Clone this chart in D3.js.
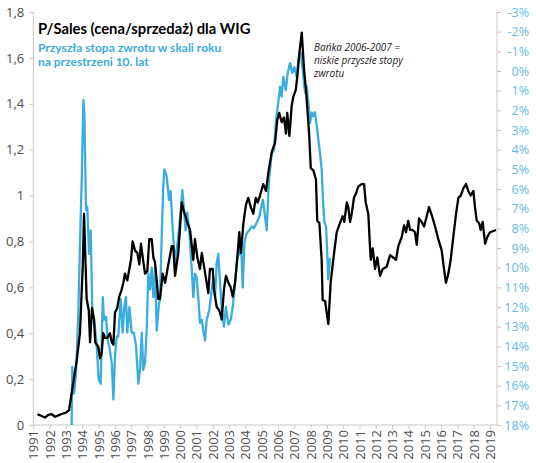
<!DOCTYPE html>
<html>
<head>
<meta charset="utf-8">
<script src="https://cdn.jsdelivr.net/npm/d3@7"></script>
<style>
  body { margin: 0; background: #fff; }
  text { font-family: "Open Sans", "Liberation Sans", sans-serif; }
</style>
</head>
<body>
<script>
  // P/Sales dla WIG (left axis) and future 10y annual return (right axis, inverted)
  var pSales = [
    [1991.25, 0.047], [1991.52, 0.039], [1991.72, 0.032], [1991.92, 0.044],
    [1992.13, 0.047], [1992.33, 0.036], [1992.53, 0.042], [1992.74, 0.048],
    [1993.00, 0.054], [1993.19, 0.065], [1993.29, 0.11], [1993.66, 0.28],
    [1993.86, 0.40], [1994.03, 0.69], [1994.11, 0.92], [1994.27, 0.55],
    [1994.40, 0.50], [1994.48, 0.36], [1994.60, 0.51], [1994.72, 0.46],
    [1994.80, 0.36], [1994.99, 0.34], [1995.09, 0.29], [1995.19, 0.31],
    [1995.29, 0.40], [1995.40, 0.38], [1995.54, 0.38], [1995.70, 0.40],
    [1995.81, 0.36], [1995.91, 0.35], [1996.01, 0.49], [1996.15, 0.51],
    [1996.27, 0.56], [1996.42, 0.59], [1996.52, 0.62], [1996.62, 0.66],
    [1996.76, 0.63], [1996.89, 0.68], [1996.99, 0.72], [1997.09, 0.80],
    [1997.24, 0.76], [1997.38, 0.75], [1997.50, 0.70], [1997.60, 0.79],
    [1997.71, 0.73], [1997.85, 0.66], [1997.99, 0.67], [1998.11, 0.81],
    [1998.26, 0.81], [1998.36, 0.73], [1998.46, 0.71], [1998.57, 0.63],
    [1998.66, 0.55], [1998.77, 0.55], [1998.93, 0.66], [1999.08, 0.62],
    [1999.18, 0.66], [1999.28, 0.70], [1999.49, 0.78], [1999.58, 0.78],
    [1999.69, 0.65], [1999.89, 0.75], [2000.10, 0.97], [2000.20, 0.94],
    [2000.41, 0.89], [2000.61, 0.85], [2000.81, 0.72], [2000.91, 0.81],
    [2001.06, 0.73], [2001.22, 0.68], [2001.33, 0.75], [2001.47, 0.69],
    [2001.63, 0.62], [2001.73, 0.575], [2001.83, 0.68], [2002.00, 0.68],
    [2002.08, 0.59], [2002.24, 0.515], [2002.40, 0.50], [2002.55, 0.46],
    [2002.69, 0.59], [2002.81, 0.65], [2002.96, 0.62], [2003.10, 0.60],
    [2003.23, 0.56], [2003.37, 0.62], [2003.51, 0.73], [2003.63, 0.84],
    [2003.73, 0.75], [2003.88, 0.88], [2004.04, 0.96], [2004.18, 0.99],
    [2004.33, 0.95], [2004.49, 0.92], [2004.64, 0.99], [2004.76, 0.97],
    [2004.90, 1.00], [2005.10, 1.05], [2005.27, 1.02], [2005.41, 1.10],
    [2005.62, 1.19], [2005.82, 1.23], [2005.96, 1.33], [2006.08, 1.36],
    [2006.23, 1.32], [2006.37, 1.34], [2006.49, 1.27], [2006.57, 1.36],
    [2006.70, 1.26], [2006.84, 1.39], [2006.94, 1.43], [2007.09, 1.46],
    [2007.19, 1.52], [2007.31, 1.62], [2007.46, 1.71], [2007.60, 1.55],
    [2007.72, 1.46], [2007.82, 1.36], [2007.92, 1.26], [2008.01, 1.12],
    [2008.17, 1.11], [2008.33, 1.07], [2008.41, 0.89], [2008.54, 0.88],
    [2008.68, 0.72], [2008.74, 0.545], [2008.89, 0.54], [2009.09, 0.44],
    [2009.23, 0.62], [2009.39, 0.72], [2009.60, 0.84], [2009.80, 0.88],
    [2009.97, 0.91], [2010.07, 0.885], [2010.22, 0.97], [2010.31, 0.95],
    [2010.42, 0.885], [2010.52, 0.92], [2010.66, 0.99], [2010.79, 1.01],
    [2010.93, 1.04], [2011.13, 1.05], [2011.28, 1.05], [2011.38, 0.97],
    [2011.54, 0.92], [2011.64, 0.78], [2011.69, 0.72], [2011.81, 0.77],
    [2011.95, 0.68], [2012.09, 0.73], [2012.26, 0.65], [2012.42, 0.68],
    [2012.67, 0.69], [2012.87, 0.74], [2013.07, 0.73], [2013.24, 0.72],
    [2013.38, 0.78], [2013.59, 0.82], [2013.73, 0.87], [2013.85, 0.84],
    [2013.99, 0.89], [2014.10, 0.85], [2014.26, 0.85], [2014.40, 0.84],
    [2014.51, 0.785], [2014.65, 0.90], [2014.81, 0.885], [2014.96, 0.865],
    [2015.12, 0.91], [2015.26, 0.95], [2015.43, 0.915], [2015.63, 0.865],
    [2015.83, 0.81], [2016.04, 0.76], [2016.18, 0.68], [2016.30, 0.62],
    [2016.45, 0.66], [2016.59, 0.72], [2016.75, 0.82], [2016.92, 0.92],
    [2017.06, 0.99], [2017.21, 1.00], [2017.36, 1.03], [2017.53, 1.05],
    [2017.67, 1.02], [2017.82, 1.00], [2017.98, 1.02], [2018.08, 0.95],
    [2018.19, 0.89], [2018.33, 0.88], [2018.43, 0.85], [2018.55, 0.885],
    [2018.70, 0.79], [2018.84, 0.82], [2019.00, 0.84], [2019.37, 0.85]
  ];

  var futureReturn = [
    [1993.35, 18.0], [1993.39, 15.05], [1993.50, 16.4], [1993.62, 15.35],
    [1993.76, 12.3], [1993.86, 8.9], [1993.97, 5.5], [1994.07, 1.47],
    [1994.13, 2.1], [1994.23, 7.07], [1994.31, 6.9], [1994.42, 9.3],
    [1994.52, 8.1], [1994.62, 12.3], [1994.74, 12.65], [1994.89, 14.0],
    [1995.01, 15.7], [1995.13, 15.9], [1995.26, 11.5], [1995.33, 12.65],
    [1995.46, 12.5], [1995.56, 13.7], [1995.66, 14.0], [1995.81, 14.85],
    [1995.91, 16.7], [1996.01, 14.5], [1996.11, 13.5], [1996.21, 13.5],
    [1996.36, 11.6], [1996.48, 13.3], [1996.58, 12.0], [1996.68, 11.5],
    [1996.76, 13.3], [1996.89, 12.0], [1997.03, 13.3], [1997.17, 13.3],
    [1997.30, 14.0], [1997.44, 15.9], [1997.54, 15.2], [1997.65, 13.3],
    [1997.74, 15.2], [1997.85, 14.85], [1997.95, 13.2], [1998.05, 10.3],
    [1998.16, 11.1], [1998.26, 10.0], [1998.36, 11.5], [1998.46, 10.0],
    [1998.57, 13.2], [1998.69, 12.0], [1998.77, 11.5], [1998.87, 8.5],
    [1998.97, 5.8], [1999.04, 5.0], [1999.18, 5.37], [1999.32, 6.55],
    [1999.42, 6.1], [1999.55, 8.1], [1999.69, 9.8], [1999.89, 8.4],
    [2000.04, 7.07], [2000.14, 6.05], [2000.24, 7.07], [2000.34, 8.1],
    [2000.44, 7.2], [2000.56, 8.1], [2000.71, 10.0], [2000.81, 11.5],
    [2000.91, 10.3], [2001.02, 10.5], [2001.12, 11.6], [2001.22, 12.8],
    [2001.33, 12.65], [2001.42, 13.2], [2001.53, 13.7], [2001.63, 12.65],
    [2001.79, 12.15], [2001.94, 11.1], [2002.04, 10.5], [2002.14, 11.5],
    [2002.24, 9.8], [2002.34, 9.3], [2002.45, 10.8], [2002.55, 12.0],
    [2002.69, 13.0], [2002.81, 12.0], [2002.96, 12.9], [2003.10, 12.65],
    [2003.23, 12.0], [2003.37, 10.8], [2003.51, 9.45], [2003.63, 9.3],
    [2003.73, 8.6], [2003.84, 11.0], [2003.94, 8.75], [2004.08, 8.25],
    [2004.24, 8.1], [2004.39, 7.9], [2004.53, 8.0], [2004.70, 7.7],
    [2004.86, 7.4], [2005.00, 6.8], [2005.08, 6.55], [2005.21, 7.4],
    [2005.31, 8.1], [2005.42, 6.0], [2005.47, 5.4], [2005.62, 4.2],
    [2005.76, 4.0], [2005.88, 2.5], [2006.02, 1.6], [2006.13, 0.8],
    [2006.23, 1.3], [2006.33, 0.3], [2006.48, 0.97], [2006.60, 0.1],
    [2006.74, -0.4], [2006.88, 0.1], [2007.00, -0.2], [2007.15, 0.3],
    [2007.25, -0.56], [2007.40, -0.9], [2007.52, -0.05], [2007.66, 1.1],
    [2007.76, 0.8], [2007.86, 1.6], [2007.97, 2.65], [2008.07, 2.1],
    [2008.17, 2.3], [2008.27, 2.1], [2008.41, 3.0], [2008.58, 4.2],
    [2008.68, 5.0], [2008.78, 6.9], [2008.85, 7.7], [2008.95, 7.9],
    [2009.09, 10.6], [2009.19, 9.5]
  ];

  var yearLabels = ["1991", "1992", "1993", "1994", "1995", "1996", "1997",
    "1998", "1999", "2000", "2001", "2002", "2003", "2004", "2005", "2006",
    "2007", "2008", "2009", "2010", "2011", "2012", "2013", "2014", "2015",
    "2016", "2017", "2018", "2019"];
  var leftTicks = [0, 0.2, 0.4, 0.6, 0.8, 1.0, 1.2, 1.4, 1.6, 1.8];
  var leftLabels = ["0", "0,2", "0,4", "0,6", "0,8", "1", "1,2", "1,4", "1,6", "1,8"];
  var rightTicks = [-3, -2, -1, 0, 1, 2, 3, 4, 5, 6, 7, 8, 9, 10, 11, 12, 13, 14, 15, 16, 17, 18];

  var width = 536;
  var height = 463;
  var margin = { top: 12, left: 33.3, right: 39, bottom: 38 };

  var blue = "#3aade0";
  var axisGray = "#c8c8c8";
  var labelGray = "#4d4d4d";

  var svg = d3.select("body")
    .append("svg")
    .attr("width", width)
    .attr("height", height);

  svg.append("rect")
    .attr("width", width)
    .attr("height", height)
    .attr("fill", "#fff");

  var xScale = d3.scaleLinear()
    .domain([1991, 2019.43])
    .range([margin.left, width - margin.right]);

  var yLeft = d3.scaleLinear()
    .domain([0, 1.8])
    .range([height - margin.bottom, margin.top]);

  var yRight = d3.scaleLinear()
    .domain([-3, 18])
    .range([margin.top, height - margin.bottom]);

  // left axis
  var leftAxis = svg.append("g")
    .attr("transform", `translate(${margin.left},0)`)
    .call(d3.axisLeft(yLeft)
      .tickValues(leftTicks)
      .tickFormat(function(d, i) { return leftLabels[i]; })
      .tickSize(4)
      .tickPadding(5));

  // right axis
  var rightAxis = svg.append("g")
    .attr("transform", `translate(${width - margin.right},0)`)
    .call(d3.axisRight(yRight).tickValues(rightTicks).tickFormat(function(d) { return d + "%"; }).tickSize(4));

  rightAxis.selectAll("text")
    .attr("text-anchor", "end")
    .attr("x", 32);

  // bottom axis
  var xAxis = svg.append("g")
    .attr("transform", `translate(0,${height - margin.bottom})`)
    .call(d3.axisBottom(xScale)
      .tickValues(yearLabels.map(Number))
      .tickFormat(function(d, i) { return yearLabels[i]; })
      .tickSize(4));

  xAxis.selectAll("text")
    .attr("transform", "rotate(-90)")
    .attr("text-anchor", "end")
    .attr("x", -5)
    .attr("y", 0)
    .attr("dy", "0.35em");

  [leftAxis, rightAxis, xAxis].forEach(function(g) {
    g.select(".domain").attr("stroke", axisGray).attr("stroke-width", 1);
    g.selectAll(".tick line").attr("stroke", axisGray);
    g.selectAll("text").style("font-size", "12.5px");
  });
  leftAxis.selectAll("text").attr("fill", labelGray).style("font-size", "13px");
  xAxis.selectAll("text").attr("fill", labelGray).style("font-size", "13px");
  rightAxis.selectAll("text").attr("fill", "#5fbbe6");
  // axis domains without end caps
  leftAxis.select(".domain").attr("d", `M0,${margin.top}V${height - margin.bottom}`);
  rightAxis.select(".domain").attr("d", `M0,${margin.top}V${height - margin.bottom}`);
  xAxis.select(".domain").attr("d", `M${margin.left},0H${width - margin.right}`);

  // lines
  var psLine = d3.line()
    .x(function(d) { return xScale(d[0]); })
    .y(function(d) { return yLeft(d[1]); });

  var retLine = d3.line()
    .x(function(d) { return xScale(d[0]); })
    .y(function(d) { return yRight(d[1]); });

  svg.append("path")
    .datum(futureReturn)
    .attr("fill", "none")
    .attr("stroke", blue)
    .attr("stroke-width", 2.3)
    .attr("stroke-linejoin", "round")
    .attr("d", retLine);

  svg.append("path")
    .datum(pSales)
    .attr("fill", "none")
    .attr("stroke", "#000")
    .attr("stroke-width", 2.3)
    .attr("stroke-linejoin", "round")
    .attr("d", psLine);

  // titles
  svg.append("text")
    .attr("x", 38)
    .attr("y", 34)
    .attr("font-weight", "bold")
    .style("font-size", "14.8px")
    .style("font-family", "Lato, 'Open Sans', sans-serif")
    .attr("fill", "#000")
    .text("P/Sales (cena/sprzedaż) dla WIG");

  var subtitle = ["Przyszła stopa zwrotu w skali roku", "na przestrzeni 10. lat"];
  svg.selectAll(".subtitle")
    .data(subtitle)
    .enter()
    .append("text")
    .attr("class", "subtitle")
    .attr("x", 38)
    .attr("y", function(d, i) { return 51.5 + i * 14; })
    .attr("font-weight", "bold")
    .style("font-size", "12px")
    .style("font-family", "Lato, 'Open Sans', sans-serif")
    .attr("fill", blue)
    .text(function(d) { return d; });

  // annotation
  var note = ["Bańka 2006-2007 =", "niskie przyszłe stopy", "zwrotu"];
  svg.selectAll(".note")
    .data(note)
    .enter()
    .append("text")
    .attr("class", "note")
    .attr("x", 314)
    .attr("y", function(d, i) { return 51 + i * 13; })
    .attr("font-style", "italic")
    .style("font-size", "10px")
    .attr("fill", "#222")
    .text(function(d) { return d; });
</script>
</body>
</html>
